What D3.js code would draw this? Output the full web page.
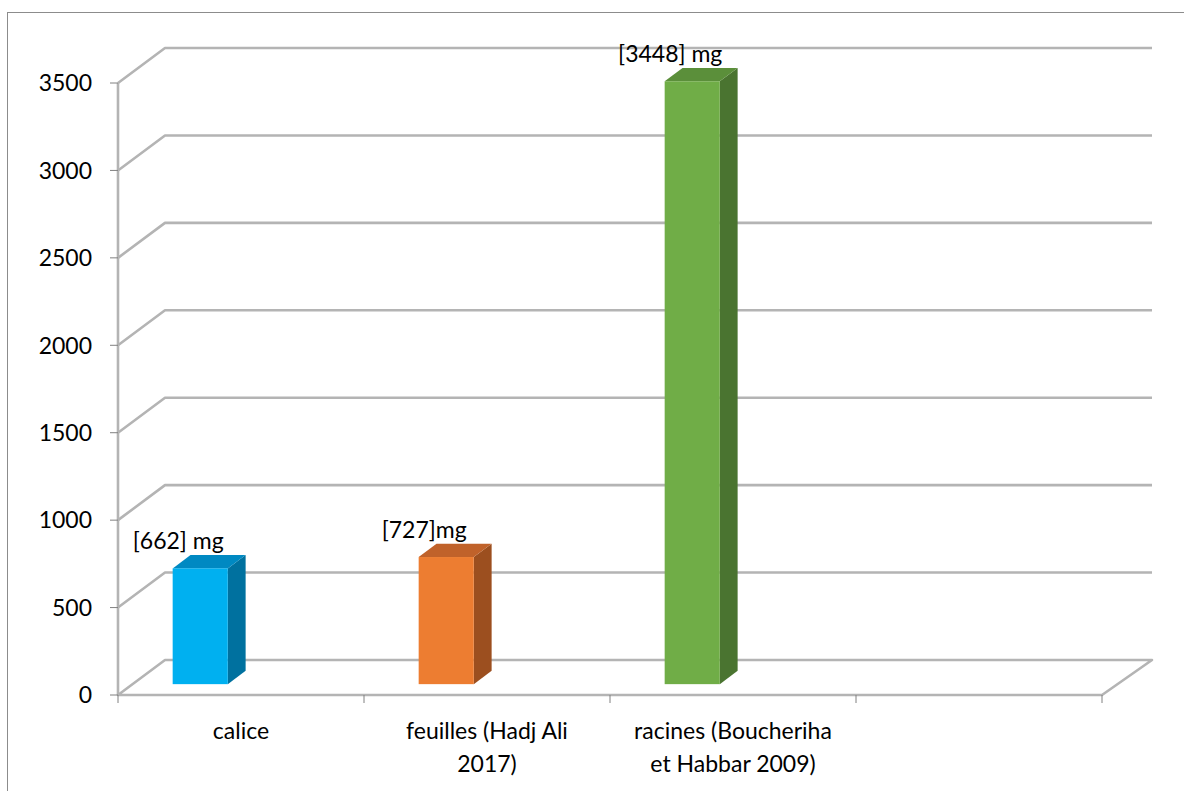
<!DOCTYPE html>
<html>
<head>
<meta charset="utf-8">
<script src="https://cdn.jsdelivr.net/npm/d3@7"></script>
<style>
  html, body { margin: 0; padding: 0; background: #fff; }
  svg { display: block; font-family: Lato, "Open Sans", sans-serif; }
</style>
</head>
<body>
<svg id="chart" width="1184" height="791"></svg>
<script>
// Data
const categories = ["calice", "feuilles (Hadj Ali 2017)", "racines (Boucheriha et Habbar 2009)", ""];
const categoryLines = [["calice"], ["feuilles (Hadj Ali", "2017)"], ["racines (Boucheriha", "et Habbar 2009)"], []];
const values = [662, 727, 3448, null];
const valueLabels = ["[662] mg", "[727]mg", "[3448] mg", ""];
const yTicks = [0, 500, 1000, 1500, 2000, 2500, 3000, 3500];
const frontColors = ["#00b0f0", "#ed7d31", "#70ad47"];
const topColors = ["#0089c2", "#c0622a", "#5b8f3a"];
const sideColors = ["#00719f", "#9c4f1f", "#4a7430"];

const svg = d3.select("#chart");

// Plot geometry (front plane + depth offset of the 3D box)
const x0 = 118, x1 = 1102, yBottom = 695, yTop = 83;
const depth = { dx: 47, dy: -35 };
const barFront = 0.31, barDepth = 0.38;   // fraction of box depth

const x = d3.scaleBand().domain(categories).range([x0, x1]).paddingInner(0).paddingOuter(0);
const y = d3.scaleLinear().domain([0, 3500]).range([yBottom, yTop]);

// Outer frame
svg.append("rect")
  .attr("x", 7.5).attr("y", 12.5).attr("width", 1200).attr("height", 800)
  .attr("fill", "none").attr("stroke", "#8c8c8c").attr("stroke-width", 1);

const gridColor = "#b4b4b4";
const grid = svg.append("g").attr("fill", "none").attr("stroke", gridColor)
  .attr("stroke-width", 2.6).attr("stroke-linejoin", "round");

// Back wall gridlines with left-wall diagonals
yTicks.forEach(t => {
  const yy = y(t);
  if (t === 0) return;
  grid.append("path").attr("d",
    `M${x0},${yy} L${x0 + depth.dx},${yy + depth.dy} L${x1 + depth.dx + 3},${yy + depth.dy}`);
});
// Floor outline
grid.append("path").attr("d",
  `M${x0 + depth.dx},${yBottom + depth.dy} L${x1 + depth.dx + 3},${yBottom + depth.dy} L${x1},${yBottom} L${x0},${yBottom} Z`);
// Left wall front edge
grid.append("line").attr("x1", x0).attr("x2", x0).attr("y1", y(3500)).attr("y2", yBottom);

// Axis ticks
const ticks = svg.append("g").attr("stroke", "#808080").attr("stroke-width", 1);
yTicks.forEach(t => {
  ticks.append("line").attr("x1", x0 - 8).attr("x2", x0).attr("y1", y(t)).attr("y2", y(t));
});
const xEdges = categories.map(c => x(c)).concat([x1]);
xEdges.forEach(e => {
  ticks.append("line").attr("x1", e).attr("x2", e).attr("y1", yBottom).attr("y2", yBottom + 8);
});

// Y tick labels
svg.append("g").selectAll("text").data(yTicks).join("text")
  .attr("x", 92).attr("y", d => y(d)).attr("dy", "0.36em")
  .attr("text-anchor", "end").attr("font-size", 23).attr("fill", "#000")
  .text(d => d);

// Category labels
const catG = svg.append("g");
categories.forEach((c, i) => {
  const cx = x(c) + x.bandwidth() / 2;
  categoryLines[i].forEach((line, j) => {
    catG.append("text").attr("x", cx).attr("y", 739 + j * 33)
      .attr("text-anchor", "middle").attr("font-size", 23).attr("fill", "#000")
      .text(line);
  });
});

// 3D bars
const offX = depth.dx * barFront, offY = depth.dy * barFront;
const dX = depth.dx * barDepth, dY = depth.dy * barDepth;
const bars = svg.append("g");
values.forEach((v, i) => {
  if (v == null) return;
  const c = categories[i];
  const left = x(c) + x.bandwidth() * 0.163 + offX;
  const w = x.bandwidth() * 0.224;
  const bottom = y(0) + offY;
  const top = y(v) + offY;
  // side face
  bars.append("path").attr("fill", sideColors[i])
    .attr("d", `M${left + w},${top} L${left + w + dX},${top + dY} L${left + w + dX},${bottom + dY} L${left + w},${bottom} Z`);
  // top face
  bars.append("path").attr("fill", topColors[i])
    .attr("d", `M${left},${top} L${left + dX},${top + dY} L${left + w + dX},${top + dY} L${left + w},${top} Z`);
  // front face
  bars.append("rect").attr("fill", frontColors[i])
    .attr("x", left).attr("y", top).attr("width", w).attr("height", bottom - top);
  // value label
  bars.append("text")
    .attr("x", left + w / 2 - 22).attr("y", top + dY - 6)
    .attr("text-anchor", "middle").attr("font-size", 23).attr("fill", "#000")
    .text(valueLabels[i]);
});
</script>
</body>
</html>
